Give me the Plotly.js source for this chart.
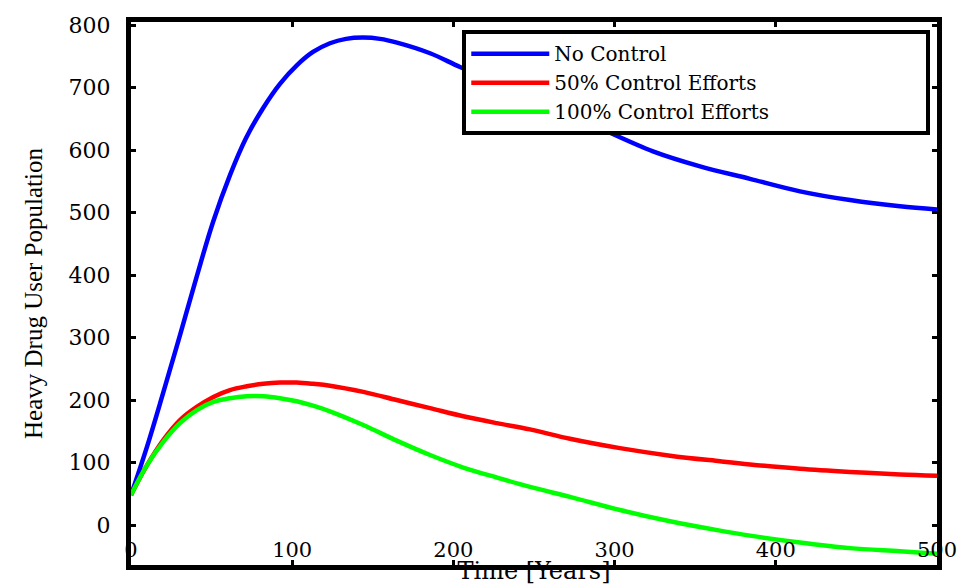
<!DOCTYPE html>
<html>
<head>
<meta charset="utf-8">
<script src="https://cdn.plot.ly/plotly-3.0.1.min.js"></script>
<style>html,body{margin:0;padding:0;background:#fff;}#chart{width:961px;height:585px;}</style>
</head>
<body>
<div id="chart"></div>
<script>
// Time [Years]
const timeNo = [0,9.9,19.9,30.4,40.8,50.9,61.4,71.3,81.9,92.4,103,112.9,123.4,133.4,143.9,154.5,165,185.5,204.1,228.9,259.9,286.6,323.8,353,384,415,446,477,500];
const noControl = [48,125,211,304,398,485,560,619,667,706,736,757,771,778,780,778,772,755,733,706,670,640,598,574,554,534,520,510,505];

const timeCtrl = [0,9.3,20,30.4,40.8,51.1,61.4,71.8,82.1,92.4,102.8,112.9,123.4,144.1,164.8,185.5,206.1,226.9,247.5,272.3,303.3,334.4,365.4,384,415,446,477,500];
const control50 = [48,93,136,168,189,205,216,222,226,228,228,226,223,213,200,187,174,163,153,138,123,111,102,97,90,85,81,79];
const control100 = [48,93,133,163,184,197,203,206,206,203,198,191,182,160,135,112,92,76,61,45,24,6,-9,-17,-28,-37,-42,-46];

const seriesNames = ["No Control","50% Control Efforts","100% Control Efforts"];
const xTicks = [0,100,200,300,400,500];
const yTicks = [0,100,200,300,400,500,600,700,800];

const lw = 4.5;
const traces = [
  {x: timeNo, y: noControl, name: seriesNames[0], mode: "lines", line: {color: "#0000ff", width: lw, shape: "spline", smoothing: 1}},
  {x: timeCtrl, y: control50, name: seriesNames[1], mode: "lines", line: {color: "#ff0000", width: lw, shape: "spline", smoothing: 1}},
  {x: timeCtrl, y: control100, name: seriesNames[2], mode: "lines", line: {color: "#00ff00", width: lw, shape: "spline", smoothing: 1}}
];

const layout = {
  width: 961, height: 585,
  margin: {l: 131, r: 24, t: 22, b: 20},
  paper_bgcolor: "#fff", plot_bgcolor: "#fff",
  showlegend: true,
  legend: {
    orientation: "h",
    x: 0.411, y: 0.985, xanchor: "left", yanchor: "top",
    bgcolor: "#fff", bordercolor: "#000", borderwidth: 4,
    font: {family: "DejaVu Serif", size: 20, color: "#000"},
    itemwidth: 78,
    entrywidth: 367, entrywidthmode: "pixels",
    tracegroupgap: 0
  },
  xaxis: {
    range: [0, 500], tickvals: xTicks, ticktext: xTicks.map(String),
    showgrid: false, zeroline: false,
    showline: true, linecolor: "#000", linewidth: 5, mirror: "allticks",
    ticks: "inside", ticklen: 5, tickwidth: 3, tickcolor: "#000",
    ticklabelposition: "inside", ticklabeloverflow: "allow",
    tickfont: {family: "DejaVu Serif", size: 21, color: "#000"},
    title: {text: "Time [Years]", font: {family: "DejaVu Serif", size: 24, color: "#000"}, standoff: 5}
  },
  yaxis: {
    range: [-64, 805], tickvals: yTicks, ticktext: yTicks.map(String),
    showgrid: false, zeroline: false,
    showline: true, linecolor: "#000", linewidth: 5, mirror: "allticks",
    ticks: "inside", ticklen: 5, tickwidth: 3, tickcolor: "#000",
    ticklabelstandoff: 11,
    tickfont: {family: "DejaVu Serif", size: 22, color: "#000"},
    title: {text: "Heavy Drug User Population", font: {family: "Liberation Serif", size: 25, color: "#000"}, standoff: 20}
  }
};

Plotly.newPlot("chart", traces, layout, {displayModeBar: false, staticPlot: true});
</script>
</body>
</html>
